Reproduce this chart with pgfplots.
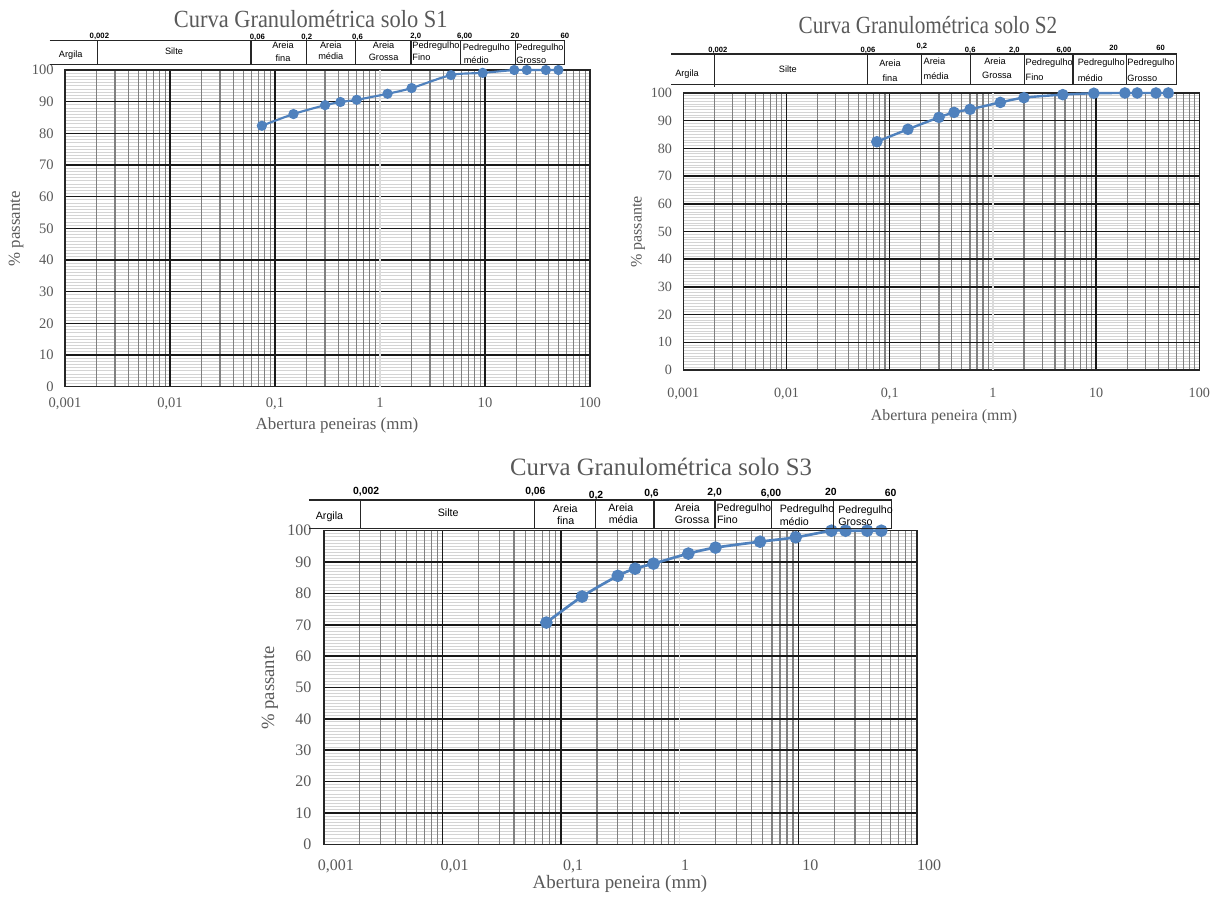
\documentclass[border=0pt]{standalone}
\usepackage{graphicx}
\usepackage{pgfplots}
\pgfplotsset{compat=1.18}
\usepackage{fontspec}
\setmainfont{Liberation Serif}
\newfontfamily\arial{Liberation Sans}
\definecolor{ser}{HTML}{4F81BD}
\definecolor{txt}{HTML}{595959}
\begin{document}
\begin{tikzpicture}
% ================= S1 =================
\begin{axis}[scale only axis, anchor=south west, at={(48.75pt,381.98pt)}, width=393.75pt, height=237.5pt,
    xmode=log, xmin=0.001, xmax=100, ymin=0, ymax=100,
    xtick=\empty, ytick={0,10,...,100}, yticklabels={}, minor y tick num=9,
    yminorgrids=true, ymajorgrids=false, minor grid style={draw=black!17, line width=0.75pt},
    major tick length=0pt, minor tick length=0pt, axis line style={draw=none}]
\end{axis}
\begin{axis}[scale only axis, anchor=south west, at={(48.75pt,381.98pt)}, width=393.75pt, height=237.5pt,
    xmode=log, xmin=0.001, xmax=100, ymin=0, ymax=100, clip=false,
    xtick={0.001,0.01,0.1,10,100},
    xticklabels={{0,001},{0,01},{0,1},{10},{100}},
    extra x ticks={1}, extra x tick labels={1},
    extra x tick style={grid=major, major grid style={draw=black!14, line width=0.9pt}},
    minor xtick={0.002,0.003,0.004,0.005,0.006,0.007,0.008,0.009,0.02,0.03,0.04,0.05,0.06,0.07,0.08,0.09,0.2,0.3,0.4,0.5,0.6,0.7,0.8,0.9,2,3,4,5,6,7,8,9,20,30,40,50,60,70,80,90},
    ytick={0,10,...,100},
    grid=both,
    major grid style={draw=black!90, line width=1.1pt},
    minor grid style={draw=black!50, line width=0.9pt},
    major tick length=0pt, minor tick length=0pt,
    axis line style={draw=black!85, line width=1pt},
    /pgf/number format/assume math mode=true,
    tick label style={color=txt, font=\fontsize{10.9}{12}\selectfont},
    xticklabel style={yshift=-5pt}, yticklabel style={xshift=-5pt}]
\addplot[color=ser, line width=1.6pt, smooth, tension=0.5, mark=*, mark size=3pt, mark options={solid, fill=ser}]
coordinates {(0.075,82.4) (0.15,86.1) (0.3,88.9) (0.42,89.9) (0.6,90.6) (1.18,92.5) (2.0,94.3) (4.75,98.4) (9.5,99.1) (19,100) (25,100) (38,100) (50,100)};
\end{axis}
% ================= S2 =================
\begin{axis}[scale only axis, anchor=south west, at={(512.5pt,394.5pt)}, width=387pt, height=207.75pt,
    xmode=log, xmin=0.001, xmax=100, ymin=0, ymax=100,
    xtick=\empty, ytick={0,10,...,100}, yticklabels={}, minor y tick num=9,
    yminorgrids=true, ymajorgrids=false, minor grid style={draw=black!17, line width=0.75pt},
    major tick length=0pt, minor tick length=0pt, axis line style={draw=none}]
\end{axis}
\begin{axis}[scale only axis, anchor=south west, at={(512.5pt,394.5pt)}, width=387pt, height=207.75pt,
    xmode=log, xmin=0.001, xmax=100, ymin=0, ymax=100, clip=false,
    xtick={0.001,0.01,0.1,10,100},
    xticklabels={{0,001},{0,01},{0,1},{10},{100}},
    extra x ticks={1}, extra x tick labels={1},
    extra x tick style={grid=major, major grid style={draw=black!14, line width=0.9pt}},
    minor xtick={0.002,0.003,0.004,0.005,0.006,0.007,0.008,0.009,0.02,0.03,0.04,0.05,0.06,0.07,0.08,0.09,0.2,0.3,0.4,0.5,0.6,0.7,0.8,0.9,2,3,4,5,6,7,8,9,20,30,40,50,60,70,80,90},
    ytick={0,10,...,100},
    grid=both,
    major grid style={draw=black!90, line width=1.1pt},
    minor grid style={draw=black!50, line width=0.9pt},
    major tick length=0pt, minor tick length=0pt,
    axis line style={draw=black!85, line width=1pt},
    /pgf/number format/assume math mode=true,
    tick label style={color=txt, font=\fontsize{10.6}{12}\selectfont},
    xticklabel style={yshift=-10pt}, yticklabel style={xshift=-5pt}]
\addplot[color=ser, line width=1.8pt, smooth, tension=0.5, mark=*, mark size=3.4pt, mark options={solid, fill=ser}]
coordinates {(0.075,82.4) (0.15,86.9) (0.3,91.2) (0.42,93.0) (0.6,94.1) (1.18,96.6) (2.0,98.3) (4.75,99.4) (9.5,99.9) (19,100) (25,100) (38,100) (50,100)};
\end{axis}
% ================= S3 =================
\begin{axis}[scale only axis, anchor=south west, at={(243pt,38.78pt)}, width=444.75pt, height=235.2pt,
    xmode=log, xmin=0.001, xmax=100, ymin=0, ymax=100,
    xtick=\empty, ytick={0,10,...,100}, yticklabels={}, minor y tick num=9,
    yminorgrids=true, ymajorgrids=false, minor grid style={draw=black!17, line width=0.75pt},
    major tick length=0pt, minor tick length=0pt, axis line style={draw=none}]
\end{axis}
\begin{axis}[scale only axis, anchor=south west, at={(243pt,38.78pt)}, width=444.75pt, height=235.2pt,
    xmode=log, xmin=0.001, xmax=100, ymin=0, ymax=100, clip=false,
    xtick={0.001,0.01,0.1,10,100},
    xticklabels={{0,001},{0,01},{0,1},{10},{100}},
    extra x ticks={1}, extra x tick labels={1},
    extra x tick style={grid=major, major grid style={draw=black!14, line width=0.9pt}, xticklabel style={xshift=-5pt}},
    minor xtick={0.002,0.003,0.004,0.005,0.006,0.007,0.008,0.009,0.02,0.03,0.04,0.05,0.06,0.07,0.08,0.09,0.2,0.3,0.4,0.5,0.6,0.7,0.8,0.9,2,3,4,5,6,7,8,9,20,30,40,50,60,70,80,90},
    ytick={0,10,...,100},
    grid=both,
    major grid style={draw=black!90, line width=1.1pt},
    minor grid style={draw=black!50, line width=0.9pt},
    major tick length=0pt, minor tick length=0pt,
    axis line style={draw=black!85, line width=1pt},
    /pgf/number format/assume math mode=true,
    tick label style={color=txt, font=\fontsize{12}{13}\selectfont},
    xticklabel style={yshift=-8pt, xshift=9pt}, yticklabel style={xshift=-6pt}]
\addplot[color=ser, line width=2pt, smooth, tension=0.5, mark=*, mark size=3.7pt, mark options={solid, fill=ser}]
coordinates {(0.075,70.7) (0.15,79.0) (0.3,85.6) (0.42,87.9) (0.6,89.5) (1.18,92.7) (2.0,94.6) (4.75,96.5) (9.5,97.9) (19,100) (25,100) (38,100) (50,100)};
\end{axis}

% ---------- texts and header tables, in image pixels ----------
\begin{scope}[x=0.75pt, y=-0.75pt, yshift=672pt,
   hl/.style={draw=black!85, line width=0.8pt},
   every node/.style={inner sep=0pt}]
  % titles
  \node[anchor=base, color=txt, font=\fontsize{18.5}{22}\selectfont] at (310.7,27.5) {\scalebox{0.91}[1]{Curva Granulométrica solo S1}};
  \node[anchor=base, color=txt, font=\fontsize{18.5}{22}\selectfont] at (928,33.3) {\scalebox{0.86}[1]{Curva Granulométrica solo S2}};
  \node[anchor=base, color=txt, font=\fontsize{18.75}{22}\selectfont] at (661,476) {\scalebox{0.99}[1]{Curva Granulométrica solo S3}};
  % axis labels
  \node[color=txt, font=\fontsize{12.7}{14}\selectfont] at (337,425) {Abertura peneiras (mm)};
  \node[color=txt, font=\fontsize{12.6}{14}\selectfont, rotate=90] at (16,229) {\% passante};
  \node[color=txt, font=\fontsize{11.9}{14}\selectfont] at (944,417) {Abertura peneira (mm)};
  \node[color=txt, font=\fontsize{12}{14}\selectfont, rotate=90] at (638,232) {\% passante};
  \node[color=txt, font=\fontsize{14.2}{16}\selectfont] at (620,884) {Abertura peneira (mm)};
  \node[color=txt, font=\fontsize{14}{16}\selectfont, rotate=90] at (270,688) {\% passante};

  % ===== header S1 =====
  \draw[hl] (49.7,40.7) -- (564.8,40.7);
  \draw[hl] (49.7,64.3) -- (564.8,64.3);
  \foreach \x in {97.5,251,306.7,355.6,411,460.8,515.5,564.8} \draw[hl] (\x,40.7) -- (\x,64.3);
  \begin{scope}[every node/.style={inner sep=0pt, font=\arial\bfseries\fontsize{5.8}{7}\selectfont}]
    \node at (99.4,36.5) {0,002};
    \node at (257.4,37) {0,06};
    \node at (306.7,37) {0,2};
    \node at (357.5,37) {0,6};
    \node at (415.7,36.8) {2,0};
    \node at (464.6,36.5) {6,00};
    \node at (515,35.5) {20};
    \node at (564.8,35.8) {60};
  \end{scope}
  \begin{scope}[every node/.style={inner sep=0pt, font=\arial\fontsize{6.9}{8}\selectfont}]
    \node at (70.7,55) {Argila};
    \node at (174,51) {Silte};
    \node at (283,45.7) {Areia};  \node at (283,58.3) {fina};
    \node at (330.8,45) {Areia};  \node at (330.8,56) {média};
    \node at (383.6,45.7) {Areia}; \node at (383.6,57.3) {Grossa};
    \node[anchor=west] at (412.2,45.7) {Pedregulho}; \node[anchor=west] at (412.2,57.3) {Fino};
    \node[anchor=west] at (462.5,48.3) {Pedregulho}; \node[anchor=west] at (463.5,60) {médio};
    \node[anchor=west] at (516.2,48.3) {Pedregulho}; \node[anchor=west] at (516.2,60) {Grosso};
  \end{scope}

  % ===== header S2 =====
  \draw[hl] (671.4,54) -- (1176.5,54);
  \draw[hl] (671.4,84.3) -- (1176.5,84.3);
  \foreach \x in {714.4,867.4,921.9,970.2,1024.3,1073,1126.3,1176.5} \draw[hl] (\x,54) -- (\x,84.3);
  \draw[hl] (714.4,84.3) -- (714.4,87);
  \begin{scope}[every node/.style={inner sep=0pt, font=\arial\bfseries\fontsize{5.7}{7}\selectfont}]
    \node at (717.8,50) {0,002};
    \node at (868,50.7) {0,06};
    \node at (921.9,46) {0,2};
    \node at (970.2,50) {0,6};
    \node at (1014.4,50) {2,0};
    \node at (1063.9,50) {6,00};
    \node at (1113.7,48.3) {20};
    \node at (1160.5,48.3) {60};
  \end{scope}
  \begin{scope}[every node/.style={inner sep=0pt, font=\arial\fontsize{6.9}{8}\selectfont}]
    \node at (687,74) {Argila};
    \node at (787.9,69.3) {Silte};
    \node at (890,63.3) {Areia};  \node at (890,78.3) {fina};
    \node[anchor=west] at (923.4,61.7) {Areia};  \node[anchor=west] at (923.4,76) {média};
    \node at (995,61.7) {Areia}; \node at (997,75) {Grossa};
    \node[anchor=west] at (1025.4,62.7) {Pedregulho}; \node[anchor=west] at (1025.4,77.7) {Fino};
    \node[anchor=west] at (1077.5,62.7) {Pedregulho}; \node[anchor=west] at (1077.5,77.7) {médio};
    \node[anchor=west] at (1127.2,63.3) {Pedregulho}; \node[anchor=west] at (1127.2,78.3) {Grosso};
  \end{scope}

  % ===== header S3 =====
  \draw[hl] (308.9,500) -- (891.8,500);
  \draw[hl] (308.9,528.5) -- (891.8,528.5);
  \foreach \x in {360.3,534.9,595.1,654,715,771.9,833.8,891.8} \draw[hl] (\x,500) -- (\x,528.5);
  \begin{scope}[every node/.style={inner sep=0pt, font=\arial\bfseries\fontsize{7.8}{9}\selectfont}]
    \node at (366.2,491.7) {0,002};
    \node at (535.4,491.7) {0,06};
    \node at (596,495.7) {0,2};
    \node at (651.5,493.3) {0,6};
    \node at (714.6,492.3) {2,0};
    \node at (771,493.3) {6,00};
    \node at (830.8,491.7) {20};
    \node at (890.6,492.7) {60};
  \end{scope}
  \begin{scope}[every node/.style={inner sep=0pt, font=\arial\fontsize{8}{9}\selectfont}]
    \node at (329.5,516.7) {Argila};
    \node at (448.2,512.7) {Silte};
    \node at (565.2,509) {Areia};  \node at (565.7,521) {fina};
    \node at (620.8,507.3) {Areia};  \node at (623.3,519.3) {média};
    \node at (687.3,507.3) {Areia}; \node at (692,520) {Grossa};
    \node[anchor=west] at (716.3,508.3) {Pedregulho}; \node[anchor=west] at (716.8,520) {Fino};
    \node[anchor=west] at (779.5,510) {Pedregulho}; \node[anchor=west] at (779.5,521.7) {médio};
    \node[anchor=west] at (838,511) {Pedregulho}; \node[anchor=west] at (838,521.7) {Grosso};
  \end{scope}
\end{scope}
\pgfresetboundingbox
\path[use as bounding box] (0,0) rectangle (912pt,672pt);
\end{tikzpicture}
\end{document}
